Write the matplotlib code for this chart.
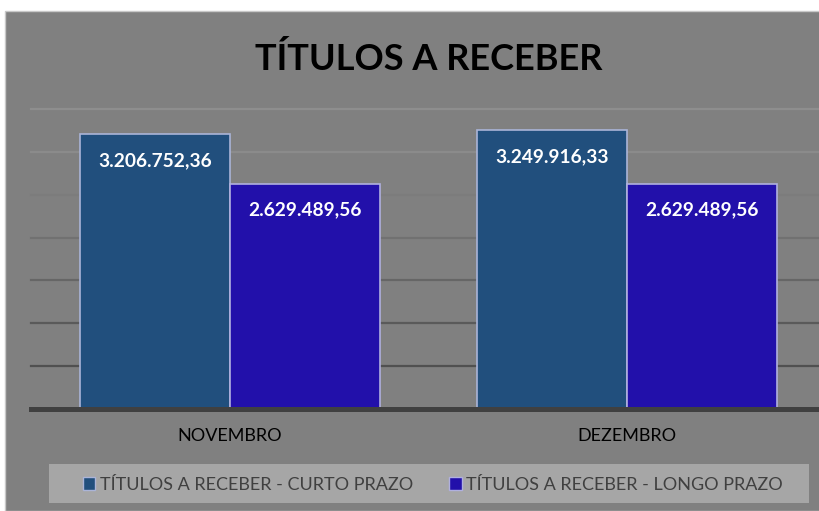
import matplotlib
matplotlib.use("Agg")
import matplotlib.pyplot as plt
from matplotlib.patches import Rectangle, Patch
import numpy as np

# valores do gráfico
meses = ["NOVEMBRO", "DEZEMBRO"]
curto_prazo = [3206752.36, 3249916.33]
longo_prazo = [2629489.56, 2629489.56]
series_nomes = ["TÍTULOS A RECEBER - CURTO PRAZO", "TÍTULOS A RECEBER - LONGO PRAZO"]
titulo = "TÍTULOS A RECEBER"

cor_curto = "#214F7D"
cor_longo = "#2210AA"
cor_fundo = "#808080"

plt.rcParams["font.family"] = ["Lato", "DejaVu Sans"]

W, H = 820, 511
fig = plt.figure(figsize=(W / 100, H / 100), dpi=100, facecolor="white")

# fundo cinza do gráfico (com margem branca em cima e à esquerda)
fig.patches.append(Rectangle((5 / W, 0), 1, 1 - 11 / H, transform=fig.transFigure,
                             facecolor=cor_fundo, edgecolor="#c8c8c8", lw=1, zorder=-2))
# fundo da legenda
fig.patches.append(Rectangle((49 / W, 8 / H), 760 / W, 39 / H, transform=fig.transFigure,
                             facecolor="#a6a6a6", edgecolor="none", zorder=-1))

ax = fig.add_axes([31.5 / W, 102 / H, 794 / W, 300 / H])
ax.set_facecolor("none")
ax.set_ylim(0, 3500000)
ax.set_xlim(-0.5, 1.5)

x = np.arange(len(meses))
larg = 0.377
b1 = ax.bar(x - larg / 2, curto_prazo, larg, color=cor_curto, edgecolor="#aab4d8", lw=1.2, zorder=3)
b2 = ax.bar(x + larg / 2, longo_prazo, larg, color=cor_longo, edgecolor="#b0b0e0", lw=1.2, zorder=3)


def fmt(v):
    s = "{:,.2f}".format(v)
    return s.replace(",", "X").replace(".", ",").replace("X", ".")


for barras, vals in ((b1, curto_prazo), (b2, longo_prazo)):
    for r, v in zip(barras, vals):
        ax.annotate(fmt(v), (r.get_x() + r.get_width() / 2, v), xytext=(0, -23),
                    textcoords="offset points", ha="center", va="baseline",
                    color="white", fontsize=13.8, fontweight="bold", zorder=5)

# grades (mais escuras embaixo, mais claras em cima)
cores_grade = ["#505050", "#5a5a5a", "#666666", "#717171", "#7c7c7c", "#8b8b8b", "#8e8e8e"]
for yv, c in zip(np.arange(500000, 3500001, 500000), cores_grade):
    ax.axhline(yv, color=c, lw=1.6, zorder=1, clip_on=False)
ax.axhline(0, color="#404040", lw=3.6, zorder=4, clip_on=False)

for s in ax.spines.values():
    s.set_visible(False)
ax.set_yticks([])
ax.set_xticks(x)
ax.set_xticklabels(meses, fontsize=13, color="black")
ax.tick_params(axis="x", length=0, pad=14)

fig.text(428.5 / W, 1 - 70 / H, titulo, ha="center", va="baseline",
         fontsize=26, fontweight="bold", color="black")

handles = [Patch(facecolor=cor_curto, edgecolor="#aab4d8"),
           Patch(facecolor=cor_longo, edgecolor="#b0b0e0")]
leg = fig.legend(handles, series_nomes, ncol=2, loc="center",
                 bbox_to_anchor=(433 / W, 26 / H),
                 fontsize=13, frameon=False, handlelength=0.7,
                 handleheight=0.7, handletextpad=0.25, columnspacing=2.0,
                 borderaxespad=0)
for t in leg.get_texts():
    t.set_color("#404040")

fig.savefig("out.png", dpi=100, facecolor="white")
